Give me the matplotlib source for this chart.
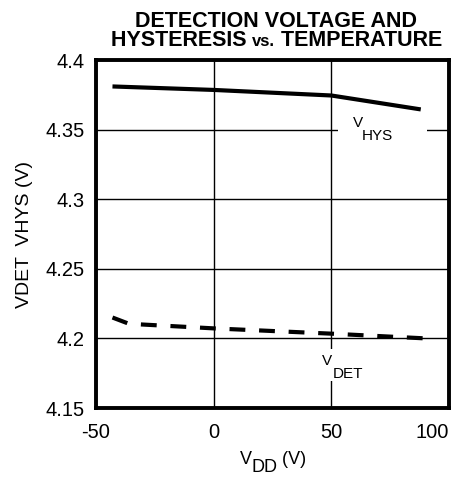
import matplotlib.pyplot as plt
from matplotlib.patches import Rectangle
from matplotlib.transforms import Affine2D

plt.rcParams['font.family'] = ['Liberation Sans', 'DejaVu Sans']
plt.rcParams['axes.unicode_minus'] = False

W, H = 465, 478

# temperature points and curves
temp_hys = [-43, 0, 50, 88]
v_hys = [4.381, 4.3785, 4.3745, 4.3645]

temp_det = [-43, -36, 0, 50, 90]
v_det = [4.215, 4.2105, 4.2072, 4.2034, 4.2000]

x_ticks = [-50, 0, 50, 100]
y_ticks = [4.15, 4.2, 4.25, 4.3, 4.35, 4.4]
y_tick_labels = ['4.15', '4.2', '4.25', '4.3', '4.35', '4.4']

fig = plt.figure(figsize=(W / 100, H / 100), dpi=100)
ax = fig.add_axes([96 / W, 1 - 408 / H, 353 / W, 348 / H])
# pixel coordinates measured from the top-left corner
px = Affine2D().scale(1, -1).translate(0, H)

ax.set_xlim(-50, 100)
ax.set_ylim(4.15, 4.4)
ax.set_xticks(x_ticks)
ax.set_yticks(y_ticks)
ax.set_yticklabels(y_tick_labels)
ax.tick_params(length=0, labelsize=14.5)
ax.tick_params(axis='y', pad=8)
ax.tick_params(axis='x', pad=11)
ax.get_xticklabels()[-1].set_ha('right')

ax.grid(True, color='black', linewidth=1.0)
ax.set_axisbelow(True)
for s in ax.spines.values():
    s.set_linewidth(2.8)

ax.plot(temp_hys, v_hys, color='black', linewidth=3, solid_capstyle='butt', zorder=3)
ax.plot(temp_det, v_det, color='black', linewidth=3, dashes=(3.8, 3.3),
        dash_capstyle='butt', zorder=3)

# white gaps in the grid behind the curve labels
ax.add_patch(Rectangle((52.8, 4.3465), 38.0, 0.007, facecolor='white',
                       edgecolor='none', zorder=1))
ax.add_patch(Rectangle((48.5, 4.1694), 3.0, 0.023, facecolor='white',
                       edgecolor='none', zorder=1))

ax.text(59.0, 4.3522, 'V', fontsize=11, ha='left', va='baseline', zorder=4)
ax.text(63.0, 4.3428, 'HYS', fontsize=11, ha='left', va='baseline', zorder=4)
ax.text(46.2, 4.1812, 'V', fontsize=11, ha='left', va='baseline', zorder=4)
ax.text(50.6, 4.1719, 'DET', fontsize=11, ha='left', va='baseline', zorder=4)

ax.set_ylabel('VDET  VHYS (V)', fontsize=14, labelpad=9)


def draw_pieces(pieces, xc, yb):
    # pieces: (text, size, weight, dy) laid out left to right, centred on xc
    r = fig.canvas.get_renderer()
    arts = []
    for s, size, weight, dy in pieces:
        t = fig.text(0, 0, s, fontsize=size, fontweight=weight, ha='left',
                     va='baseline', transform=px)
        arts.append((t, dy))
    widths = [t.get_window_extent(r).width for t, _ in arts]
    x = xc - sum(widths) / 2
    for (t, dy), w in zip(arts, widths):
        t.set_position((x, yb + dy))
        x += w


draw_pieces([('DETECTION VOLTAGE AND', 15.5, 'bold', 0)], 276, 27)
draw_pieces([('HYSTERESIS ', 15.5, 'bold', 0), ('vs.', 12, 'bold', 0),
             (' TEMPERATURE', 15.5, 'bold', 0)], 276.5, 46)
draw_pieces([('V', 13, 'normal', 0), ('DD', 13, 'normal', 8),
             (' (V)', 13, 'normal', 0)], 273, 464)

fig.savefig('out.png', dpi=100)
